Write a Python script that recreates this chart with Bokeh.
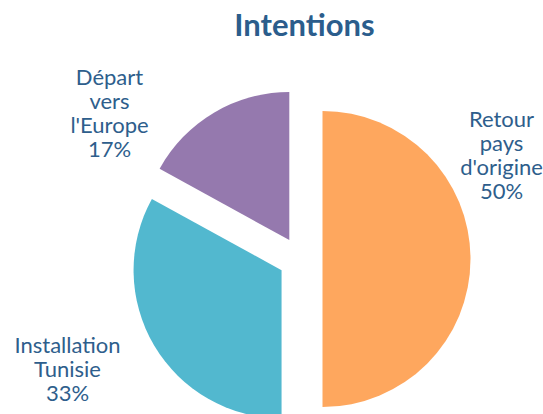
import math
from bokeh.plotting import figure
from bokeh.models import Range1d, ColumnDataSource
from bokeh.core.properties import value
from bokeh.embed import file_html
from bokeh.resources import INLINE

# Data
labels = ["Retour\npays\nd'origine", "Installation\nTunisie", "Départ\nvers\nl'Europe"]
shares = [50, 33, 17]
colors = ["#FEA75E", "#52B8CF", "#9579AE"]

# Layout (pixel-like data units)
W, H = 543, 414
cx, cy = 300, H - 258.5
radius = 148
explode = 22
label_xy = [(501, H - 154), (67, H - 368), (109, H - 112)]
text_color = "#2E5E8C"

p = figure(width=W, height=H, output_backend="svg", toolbar_location=None,
           x_range=Range1d(0, W), y_range=Range1d(0, H),
           x_axis_type=None, y_axis_type=None, min_border=0)
p.outline_line_color = None
p.grid.visible = False

total = sum(shares)
starts, ends, xs, ys = [], [], [], []
a = math.pi / 2
for s in shares:
    sweep = 2 * math.pi * s / total
    start, end = a, a - sweep
    mid = (start + end) / 2
    starts.append(end)
    ends.append(start)
    xs.append(cx + explode * math.cos(mid))
    ys.append(cy + explode * math.sin(mid))
    a = end

src = ColumnDataSource(dict(x=xs, y=ys, start=starts, end=ends, color=colors))
p.wedge(x="x", y="y", radius=radius, start_angle="start", end_angle="end",
        fill_color="color", line_color=None, source=src)

texts = [f"{lab}\n{s}%" for lab, s in zip(labels, shares)]
p.text(x=[xy[0] for xy in label_xy], y=[xy[1] for xy in label_xy], text=texts,
       text_align="center", text_baseline="middle", text_font=value("Lato"),
       text_font_size="22px", text_color=text_color, text_line_height=0.88)

p.text(x=[304], y=[H - 23], text=["Intentions"], text_align="center",
       text_baseline="middle", text_font=value("Lato"), text_font_size="31px",
       text_font_style="bold", text_color="#2B5D8C")

open("out.html", "w").write(file_html(p, INLINE))
